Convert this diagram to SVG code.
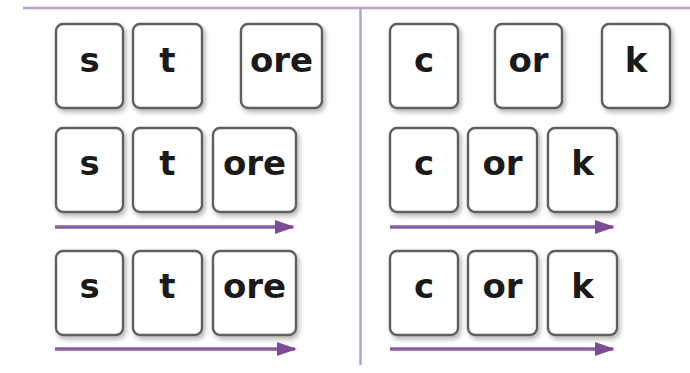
<svg xmlns="http://www.w3.org/2000/svg" width="690" height="373" viewBox="0 0 690 373">
  <defs>
    <filter id="shadow" x="-20%" y="-20%" width="150%" height="150%">
      <feGaussianBlur in="SourceAlpha" stdDeviation="2.5"/>
      <feOffset dx="2" dy="3" result="b"/>
      <feComponentTransfer><feFuncA type="linear" slope="0.3"/></feComponentTransfer>
      <feMerge><feMergeNode/><feMergeNode in="SourceGraphic"/></feMerge>
    </filter>
    <marker id="head" viewBox="0 0 20 14" refX="18" refY="7" markerWidth="20" markerHeight="14" markerUnits="userSpaceOnUse" orient="auto">
      <path d="M0,0 L20,7 L0,14 Z" fill="#7d4c97"/>
    </marker>
  </defs>
  <style>
    .card rect { fill: #ffffff; stroke: #5e5e5e; stroke-width: 2.4; filter: url(#shadow); }
    .card text { font-family: "DejaVu Sans", "Liberation Sans", sans-serif; font-weight: bold; font-size: 34px; fill: #1a1a1a; text-anchor: middle; }
    .rule { stroke: #b7a2cb; stroke-width: 2.5; fill: none; }
    .arrow { stroke: #8a5ca2; stroke-width: 3.5; fill: none; marker-end: url(#head); }
  </style>

  <!-- frame rules -->
  <g id="frame">
    <line class="rule" x1="23" y1="8" x2="690" y2="8"/>
    <line class="rule" x1="360.5" y1="8" x2="360.5" y2="365"/>
  </g>

  <!-- left column: s / t / ore -->
  <g id="card-s-1" class="card"><rect x="56" y="24" width="67" height="84" rx="7"/><text x="89.5" y="72">s</text></g>
  <g id="card-t-1" class="card"><rect x="133" y="24" width="69" height="84" rx="7"/><text x="167.5" y="72">t</text></g>
  <g id="card-ore-1" class="card"><rect x="241" y="24" width="81" height="84" rx="7"/><text x="281.5" y="72">ore</text></g>

  <g id="card-s-2" class="card"><rect x="56" y="128" width="67" height="84" rx="7"/><text x="89.5" y="175">s</text></g>
  <g id="card-t-2" class="card"><rect x="133" y="128" width="69" height="84" rx="7"/><text x="167.5" y="175">t</text></g>
  <g id="card-ore-2" class="card"><rect x="213" y="128" width="83" height="84" rx="7"/><text x="254.5" y="175">ore</text></g>

  <g id="card-s-3" class="card"><rect x="56" y="251" width="67" height="84" rx="7"/><text x="89.5" y="298">s</text></g>
  <g id="card-t-3" class="card"><rect x="133" y="251" width="69" height="84" rx="7"/><text x="167.5" y="298">t</text></g>
  <g id="card-ore-3" class="card"><rect x="213" y="251" width="83" height="84" rx="7"/><text x="254.5" y="298">ore</text></g>

  <!-- right column: c / or / k -->
  <g id="card-c-1" class="card"><rect x="390" y="24" width="68" height="84" rx="7"/><text x="424" y="72">c</text></g>
  <g id="card-or-1" class="card"><rect x="495" y="24" width="67" height="84" rx="7"/><text x="528.5" y="72">or</text></g>
  <g id="card-k-1" class="card"><rect x="602" y="24" width="68" height="84" rx="7"/><text x="636" y="72">k</text></g>

  <g id="card-c-2" class="card"><rect x="390" y="128" width="68" height="84" rx="7"/><text x="424" y="175">c</text></g>
  <g id="card-or-2" class="card"><rect x="468" y="128" width="69" height="84" rx="7"/><text x="502.5" y="175">or</text></g>
  <g id="card-k-2" class="card"><rect x="548" y="128" width="69" height="84" rx="7"/><text x="582.5" y="175">k</text></g>

  <g id="card-c-3" class="card"><rect x="390" y="251" width="68" height="84" rx="7"/><text x="424" y="298">c</text></g>
  <g id="card-or-3" class="card"><rect x="468" y="251" width="69" height="84" rx="7"/><text x="502.5" y="298">or</text></g>
  <g id="card-k-3" class="card"><rect x="548" y="251" width="69" height="84" rx="7"/><text x="582.5" y="298">k</text></g>

  <!-- blending arrows -->
  <g id="connectors">
    <line class="arrow" x1="55" y1="227" x2="293" y2="227"/>
    <line class="arrow" x1="390" y1="227" x2="613" y2="227"/>
    <line class="arrow" x1="55" y1="349" x2="295" y2="349"/>
    <line class="arrow" x1="390" y1="349" x2="613" y2="349"/>
  </g>
</svg>
